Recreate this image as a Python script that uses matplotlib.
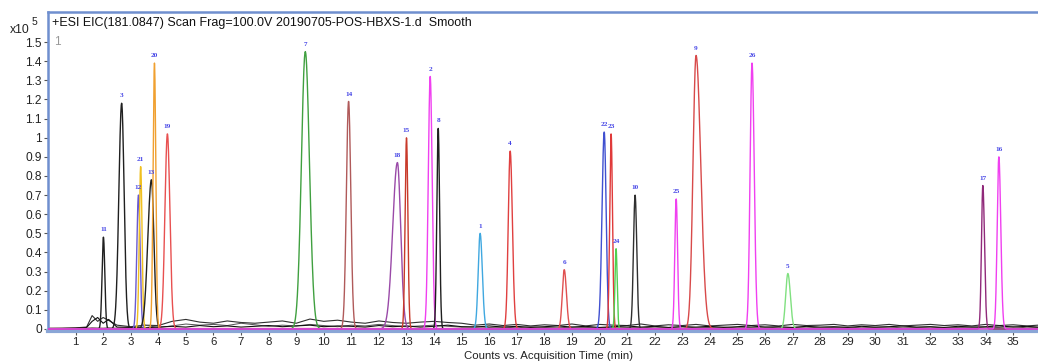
import numpy as np
import matplotlib
matplotlib.use("Agg")
import matplotlib.pyplot as plt

# ---------------- data ----------------
peak_labels = ["11", "3", "12", "21", "13", "20", "19", "7", "14", "18", "15", "2", "8",
               "1", "4", "6", "22", "23", "24", "10", "25", "9", "26", "5", "17", "16"]
peak_times = [2.01, 2.67, 3.28, 3.36, 3.75, 3.86, 4.33, 9.33, 10.90, 12.67, 13.00, 13.86, 14.15,
              15.67, 16.76, 18.72, 20.17, 20.42, 20.60, 21.29, 22.78, 23.50, 25.53, 26.83, 33.90, 34.48]
peak_heights = [0.48, 1.18, 0.70, 0.85, 0.78, 1.39, 1.02, 1.45, 1.19, 0.87, 1.00, 1.32, 1.05,
                0.50, 0.93, 0.31, 1.03, 1.02, 0.42, 0.70, 0.68, 1.43, 1.39, 0.29, 0.75, 0.90]
sigma_left = [0.05, 0.10, 0.06, 0.05, 0.13, 0.05, 0.09, 0.14, 0.08, 0.17, 0.05, 0.07, 0.05,
              0.07, 0.07, 0.07, 0.08, 0.05, 0.04, 0.06, 0.05, 0.11, 0.07, 0.08, 0.05, 0.06]
sigma_right = [0.05, 0.09, 0.06, 0.05, 0.09, 0.05, 0.09, 0.15, 0.08, 0.12, 0.05, 0.07, 0.05,
               0.08, 0.08, 0.08, 0.07, 0.05, 0.04, 0.06, 0.05, 0.17, 0.08, 0.09, 0.06, 0.07]
peak_colors = ["#202020", "#202020", "#6a5ad0", "#f0c020", "#202020", "#f0a030", "#e85050",
               "#40a040", "#b05a5a", "#9a4aa8", "#c83a2a", "#f040f0", "#202020",
               "#40a8e0", "#e04040", "#e05050", "#4050d0", "#e03a3a", "#50d050", "#303030",
               "#f040f0", "#d84a4a", "#f040f0", "#80e080", "#902a7a", "#f040f0"]

# hand-read baseline noise traces (x10^5 counts)
noise_times = [0.0, 0.5, 1.0, 1.4, 1.6, 1.8, 2.0, 2.2, 2.5, 3.0, 3.5, 4.0, 4.5, 5.0, 5.5, 6.0,
               6.5, 7.0, 7.5, 8.0, 8.5, 9.0, 9.5, 10.0, 10.5, 11.0, 11.5, 12.0, 12.5, 13.0,
               13.5, 14.0, 14.5, 15.0, 15.5, 16.0, 16.5, 17.0, 17.5, 18.0, 18.5, 19.0, 19.5,
               20.0, 20.5, 21.0, 21.5, 22.0, 22.5, 23.0, 23.5, 24.0, 24.5, 25.0, 25.5, 26.0,
               26.5, 27.0, 27.5, 28.0, 28.5, 29.0, 29.5, 30.0, 30.5, 31.0, 31.5, 32.0, 32.5,
               33.0, 33.5, 34.0, 34.5, 35.0, 35.5, 35.9]
noise_a = [0.004, 0.004, 0.006, 0.010, 0.070, 0.040, 0.060, 0.045, 0.020, 0.012, 0.020, 0.018,
           0.040, 0.050, 0.036, 0.030, 0.042, 0.034, 0.030, 0.036, 0.042, 0.030, 0.052, 0.040,
           0.046, 0.036, 0.030, 0.042, 0.034, 0.030, 0.036, 0.040, 0.034, 0.030, 0.020, 0.026,
           0.018, 0.024, 0.016, 0.022, 0.018, 0.026, 0.016, 0.024, 0.020, 0.018, 0.026, 0.016,
           0.022, 0.018, 0.024, 0.016, 0.020, 0.024, 0.018, 0.022, 0.016, 0.024, 0.018, 0.020,
           0.024, 0.016, 0.022, 0.018, 0.024, 0.016, 0.020, 0.024, 0.018, 0.022, 0.016, 0.024,
           0.018, 0.022, 0.016, 0.020]
noise_b = [0.002, 0.003, 0.004, 0.008, 0.040, 0.060, 0.030, 0.050, 0.010, 0.008, 0.006, 0.010,
           0.014, 0.010, 0.018, 0.012, 0.016, 0.010, 0.014, 0.018, 0.012, 0.016, 0.020, 0.012,
           0.016, 0.014, 0.010, 0.018, 0.012, 0.016, 0.010, 0.014, 0.020, 0.012, 0.010, 0.016,
           0.010, 0.014, 0.008, 0.012, 0.016, 0.010, 0.014, 0.008, 0.012, 0.016, 0.010, 0.014,
           0.008, 0.012, 0.010, 0.014, 0.008, 0.012, 0.016, 0.010, 0.012, 0.008, 0.014, 0.010,
           0.012, 0.008, 0.014, 0.010, 0.012, 0.016, 0.010, 0.012, 0.008, 0.014, 0.010, 0.012,
           0.016, 0.010, 0.014, 0.010]
noise_c = [0.002, 0.002, 0.003, 0.004, 0.006, 0.005, 0.004, 0.006, 0.004, 0.006, 0.020, 0.008,
           0.016, 0.026, 0.020, 0.024, 0.018, 0.030, 0.022, 0.014, 0.020, 0.016, 0.024, 0.018,
           0.012, 0.020, 0.016, 0.024, 0.018, 0.012, 0.016, 0.020, 0.014, 0.010, 0.012, 0.008,
           0.010, 0.006, 0.012, 0.008, 0.006, 0.010, 0.008, 0.006, 0.010, 0.008, 0.006, 0.010,
           0.008, 0.012, 0.006, 0.008, 0.010, 0.006, 0.008, 0.010, 0.006, 0.008, 0.010, 0.006,
           0.008, 0.010, 0.006, 0.008, 0.010, 0.006, 0.008, 0.010, 0.006, 0.008, 0.010, 0.006,
           0.008, 0.012, 0.006, 0.008]

title_text = "+ESI EIC(181.0847) Scan Frag=100.0V 20190705-POS-HBXS-1.d  Smooth"
xlabel_text = "Counts vs. Acquisition Time (min)"
x_ticks = list(range(1, 36))
y_ticks = [0, 0.1, 0.2, 0.3, 0.4, 0.5, 0.6, 0.7, 0.8, 0.9, 1.0, 1.1, 1.2, 1.3, 1.4, 1.5]
y_ticklabels = ["0", "0.1", "0.2", "0.3", "0.4", "0.5", "0.6", "0.7", "0.8", "0.9", "1",
                "1.1", "1.2", "1.3", "1.4", "1.5"]

# ---------------- figure ----------------
plt.rcParams['font.family'] = ['Liberation Sans', 'DejaVu Sans']
fig = plt.figure(figsize=(10.38, 3.61), dpi=100)
ax = fig.add_axes([48 / 1038, 1 - 331 / 361, 1 - 48 / 1038, (331 - 12) / 361])

t = np.linspace(0, 35.9, 6000)

ax.plot(noise_times, noise_a, color="#303030", lw=0.8, zorder=2)
ax.plot(noise_times, noise_c, color="#505050", lw=0.7, zorder=2)
ax.plot(noise_times, noise_b, color="#101010", lw=0.8, zorder=2)

for lab, t0, h, sl, sr, c in zip(peak_labels, peak_times, peak_heights, sigma_left, sigma_right, peak_colors):
    s = np.where(t < t0, sl, sr)
    y = h * np.exp(-0.5 * ((t - t0) / s) ** 2)
    ax.plot(t, y, color=c, lw=1.0, zorder=3)
    ax.text(t0, h + 0.025, lab, color="#4646e6", fontsize=5.2, family="Liberation Serif",
            ha="center", va="bottom", fontweight="bold", zorder=4)

ax.axhline(0.002, color="#d0203a", lw=1.6, zorder=2.5)
ax.axhline(0.0, color="#101010", lw=0.6, zorder=2.4)

ax.set_xlim(0, 35.9)
ax.set_ylim(-0.0105, 1.657)
ax.set_xticks(x_ticks)
ax.set_xticklabels([str(v) for v in x_ticks])
ax.set_yticks(y_ticks)
ax.set_yticklabels(y_ticklabels)
ax.tick_params(axis="both", labelsize=8.6, colors="#222222", length=3, width=0.8)
ax.tick_params(axis="x", color="#555555", pad=1.5, labelsize=8.2)
ax.tick_params(axis="y", color="#555555", pad=1.5)

for side in ["top", "left"]:
    ax.spines[side].set_color("#6f8fcf")
    ax.spines[side].set_linewidth(1.8)
ax.spines["bottom"].set_color("#8aa6d6")
ax.spines["bottom"].set_linewidth(3.0)
ax.spines["right"].set_visible(False)

ax.text(0.004, 0.983, title_text, transform=ax.transAxes, fontsize=9.0, ha="left", va="top",
        color="#111111")
ax.text(0.006, 0.905, "1", transform=ax.transAxes, fontsize=8.5, ha="left", va="center",
        color="#999999")
fig.text(10 / 1038, 1 - 33 / 361, "x10", fontsize=8.8, ha="left", va="baseline", color="#222222")
fig.text(32 / 1038, 1 - 25 / 361, "5", fontsize=7.5, ha="left", va="baseline", color="#222222")
fig.text(548 / 1038, 0.3 / 361, xlabel_text, fontsize=8.2, ha="center", va="bottom",
         color="#222222")

fig.savefig("out.png", dpi=100)
